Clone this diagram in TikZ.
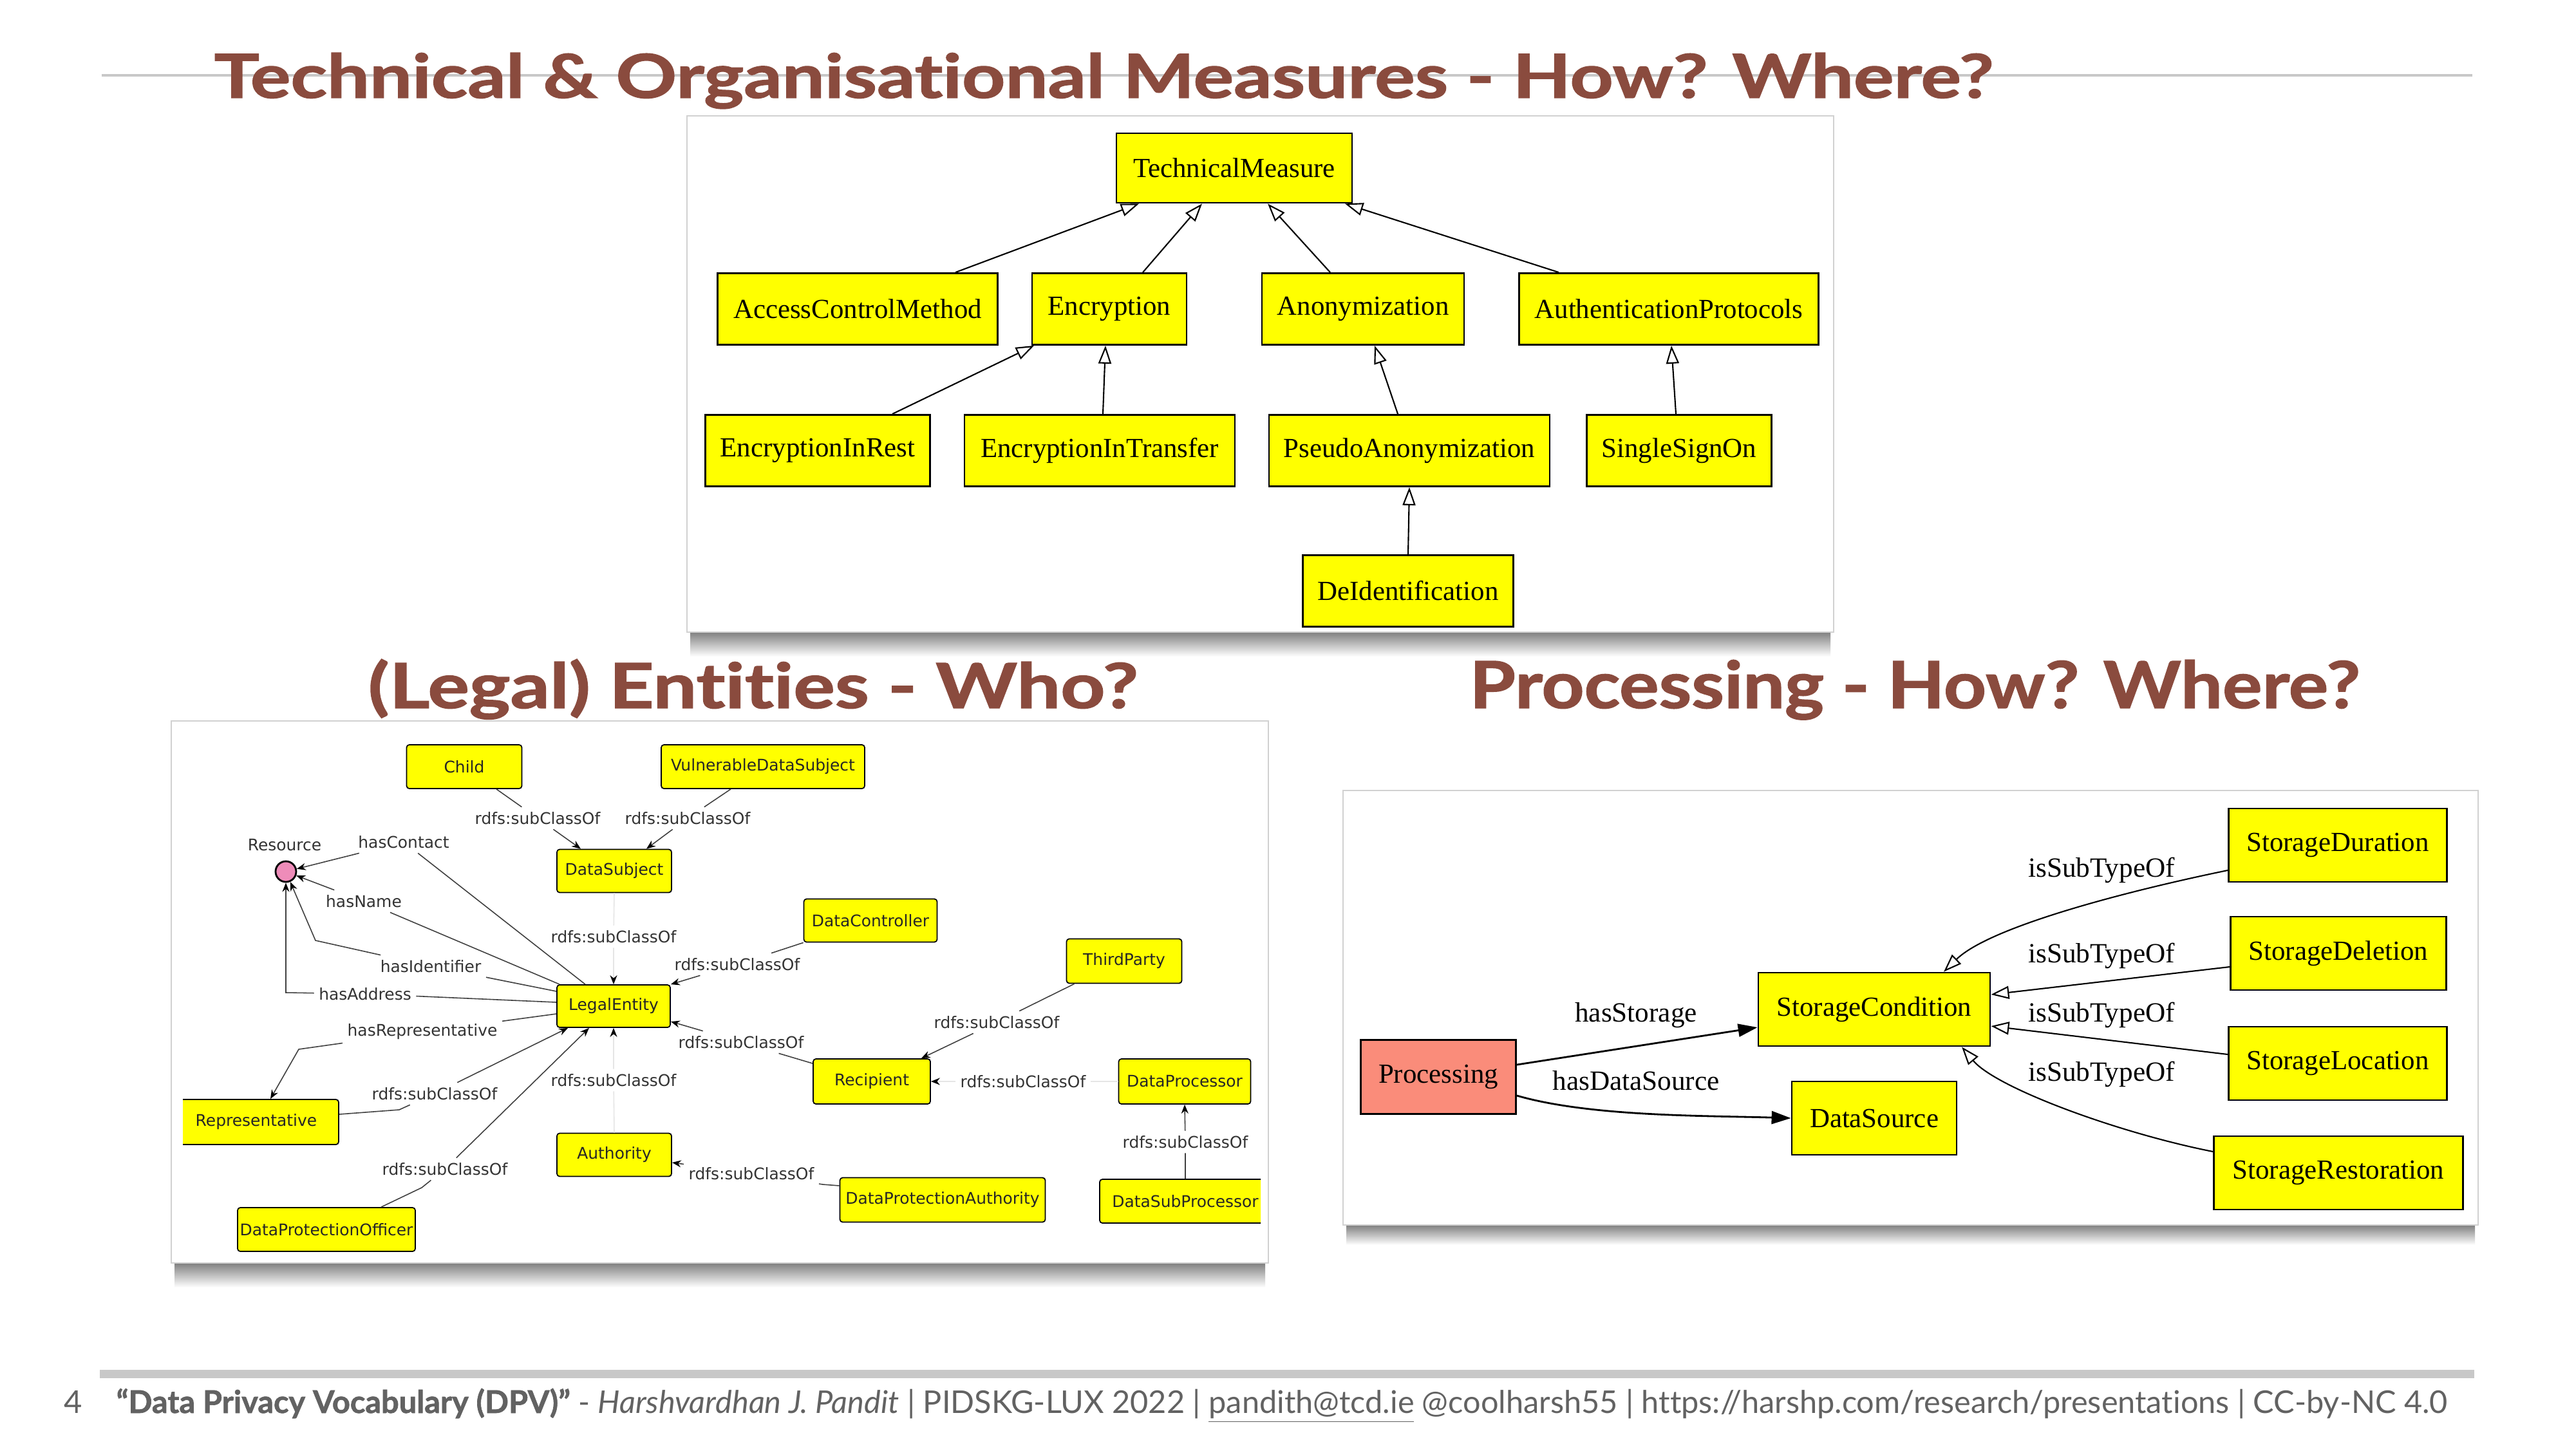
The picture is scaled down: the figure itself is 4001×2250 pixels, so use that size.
\documentclass[tikz,border=0pt]{standalone}
\usepackage{fontspec}
\usepackage{graphicx}
\setmainfont{Liberation Serif}
\newfontfamily\slidefont[Ligatures={NoCommon},BoldFeatures={FakeBold=1.4}]{Lato}
\newfontfamily\graphsans{DejaVu Sans}
\usetikzlibrary{arrows.meta,calc}
% break the t-i pair so that no ligature is formed
\newcommand\tisep{\kern0pt }

\definecolor{titlebrown}{RGB}{138,75,62}
\definecolor{rulegrey}{RGB}{200,200,200}
\definecolor{footgrey}{RGB}{98,98,98}
\definecolor{gvyellow}{RGB}{255,255,0}
\definecolor{procsalmon}{RGB}{250,140,122}
\definecolor{respink}{RGB}{238,140,185}

\begin{document}
\begin{tikzpicture}[x=0.1mm,y=-0.1mm,
  heading/.style={anchor=base west, inner sep=0, text=titlebrown},
  panel/.style={fill=white, draw=black!18, line width=0.5pt},
  gvbox/.style={draw=black, line width=0.8pt, fill=gvyellow, inner sep=0,
    font=\fontsize{12.2}{14}\selectfont},
  gvlabel/.style={inner sep=1pt, font=\fontsize{12.3}{14}\selectfont},
  isa/.style={line width=0.6pt, -{Triangle[open,length=0.28cm,width=0.2cm]}},
  hasrel/.style={line width=0.8pt, -{Triangle[length=0.3cm,width=0.2cm]}},
  entbox/.style={draw=black, line width=0.5pt, fill=gvyellow, rounded corners=1.2pt,
    inner sep=0, text=black!85, font=\graphsans\fontsize{7.1}{8}\selectfont},
  entlabel/.style={inner sep=2pt, text=black!80, font=\graphsans\fontsize{7.1}{8}\selectfont},
  entedge/.style={draw=black!75, line width=0.45pt, -{Stealth[black,length=0.14cm,width=0.11cm]}},
  faintedge/.style={draw=black!10, line width=0.45pt, -{Stealth[black,length=0.14cm,width=0.11cm]}}
]
\useasboundingbox (0,0) rectangle (4001,2250);
\fill[white] (0,0) rectangle (4001,2250);

% rule under the slide heading
\draw[rulegrey, line width=1.15pt] (158,117) -- (3840,117);

% headings
\node[heading] (head1) at (332,152)
  {\resizebox{27.63cm}{0.70cm}{\slidefont\bfseries Technical \& Organisat\tisep ional Measures - How? Where?}};
\node[heading] (head2) at (571,1100)
  {\resizebox{11.96cm}{0.76cm}{\slidefont\bfseries (Legal) Ent\tisep it\tisep ies - Who?}};
\node[heading] (head3) at (2282,1100)
  {\resizebox{13.83cm}{0.75cm}{\slidefont\bfseries Processing - How? Where?}};

% ---------- panel frames with shadows ----------
\shade[top color=black!50, bottom color=white] (1072,982) rectangle (2843,1020);
\draw[panel] (1067,180) rectangle (2848,982);

\shade[top color=black!50, bottom color=white] (271,1962) rectangle (1965,2000);
\draw[panel] (266,1120) rectangle (1970,1962);

\shade[top color=black!50, bottom color=white] (2091,1903) rectangle (3844,1934);
\draw[panel] (2086,1228) rectangle (3849,1903);

% ---------- technical measures taxonomy ----------
\node[gvbox, minimum width=3.66cm, minimum height=1.08cm] (tm) at (1917,261) {TechnicalMeasure};
\node[gvbox, minimum width=4.35cm, minimum height=1.11cm] (acm) at (1332,480) {AccessControlMethod};
\node[gvbox, minimum width=2.40cm, minimum height=1.11cm] (enc) at (1723,480) {Encryption};
\node[gvbox, minimum width=3.14cm, minimum height=1.11cm] (anon) at (2117,480) {Anonymization};
\node[gvbox, minimum width=4.65cm, minimum height=1.11cm] (authp) at (2592,480) {AuthenticationProtocols};
\node[gvbox, minimum width=3.49cm, minimum height=1.11cm] (eir) at (1270,700) {EncryptionInRest};
\node[gvbox, minimum width=4.20cm, minimum height=1.11cm] (eit) at (1708,700) {EncryptionInTransfer};
\node[gvbox, minimum width=4.36cm, minimum height=1.11cm] (pseudo) at (2189,700) {PseudoAnonymization};
\node[gvbox, minimum width=2.87cm, minimum height=1.11cm] (sso) at (2608,700) {SingleSignOn};
\node[gvbox, minimum width=3.27cm, minimum height=1.11cm] (deid) at (2187,918) {DeIdentification};

\draw[isa] ($(acm.north)+(152,0)$) -- ($(tm.south)+(-148,0)$);
\draw[isa] ($(enc.north)+(52,0)$) -- ($(tm.south)+(-50,0)$);
\draw[isa] ($(anon.north)+(-51,0)$) -- ($(tm.south)+(52,0)$);
\draw[isa] ($(authp.north)+(-171,0)$) -- ($(tm.south)+(172,0)$);
\draw[isa] ($(eir.north)+(116,0)$) -- ($(enc.south)+(-117,0)$);
\draw[isa] ($(eit.north)+(5,0)$) -- ($(enc.south)+(-6,0)$);
\draw[isa] ($(pseudo.north)+(-18,0)$) -- ($(anon.south)+(18,0)$);
\draw[isa] ($(sso.north)+(-5,0)$) -- ($(authp.south)+(4,0)$);
\draw[isa] (deid.north) -- (pseudo.south);

% ---------- processing and storage conditions ----------
\node[gvbox, fill=procsalmon, minimum width=2.41cm, minimum height=1.15cm] (proc) at (2234,1673) {Processing};
\node[gvbox, minimum width=3.60cm, minimum height=1.14cm] (sc) at (2911,1568) {StorageCondition};
\node[gvbox, minimum width=2.56cm, minimum height=1.14cm] (dsrc) at (2911,1737) {DataSource};
\node[gvbox, minimum width=3.39cm, minimum height=1.14cm] (sdur) at (3631,1313) {StorageDuration};
\node[gvbox, minimum width=3.35cm, minimum height=1.14cm] (sdel) at (3632,1481) {StorageDeletion};
\node[gvbox, minimum width=3.39cm, minimum height=1.14cm] (sloc) at (3631,1652) {StorageLocation};
\node[gvbox, minimum width=3.87cm, minimum height=1.14cm] (srest) at (3632,1822) {StorageRestoration};

\draw[hasrel] ($(proc.east)+(0,-19)$) -- ($(sc.west)+(0,28)$);
\draw[hasrel] ($(proc.east)+(0,29)$) .. controls (2470,1735) and (2650,1733) .. (dsrc.west);
\node[gvlabel] (lhs) at (2541,1577) {hasStorage};
\node[gvlabel] (lhds) at (2541,1679) {hasDataSource};

\draw[isa] ($(sdur.west)+(0,39)$) .. controls (3300,1385) and (3090,1440) .. ($(sc.north)+(108,0)$);
\draw[isa] ($(sdel.west)+(0,21)$) -- ($(sc.east)+(0,-23)$);
\draw[isa] ($(sloc.west)+(0,-14)$) -- ($(sc.east)+(0,26)$);
\draw[isa] ($(srest.west)+(0,-33)$) .. controls (3290,1760) and (3100,1690) .. ($(sc.south)+(136,0)$);
\node[gvlabel] (lst1) at (3264,1352) {isSubTypeOf};
\node[gvlabel] (lst2) at (3264,1485) {isSubTypeOf};
\node[gvlabel] (lst3) at (3264,1577) {isSubTypeOf};
\node[gvlabel] (lst4) at (3264,1669) {isSubTypeOf};

% ---------- legal entities graph ----------
\begin{scope}
\clip (284,1128) rectangle (1958,1958);
\node[entbox, minimum width=1.79cm, minimum height=0.68cm] (child) at (721,1191) {Child};
\node[entbox, minimum width=3.16cm, minimum height=0.68cm] (vds) at (1185,1191) {VulnerableDataSubject};
\node[entbox, minimum width=1.78cm, minimum height=0.67cm] (dsub) at (954,1353) {DataSubject};
\node[entbox, minimum width=1.76cm, minimum height=0.66cm] (le) at (953,1563) {LegalEntity};
\node[entbox, minimum width=2.56cm, minimum height=0.70cm] (rep) at (398,1743) {Representative};
\node[entbox, minimum width=1.78cm, minimum height=0.67cm] (auth) at (954,1794) {Authority};
\node[entbox, minimum width=2.76cm, minimum height=0.68cm] (dpo) at (507,1910) {DataProtectionOfficer};
\node[entbox, minimum width=2.07cm, minimum height=0.67cm] (dc) at (1352,1430) {DataController};
\node[entbox, minimum width=1.79cm, minimum height=0.69cm] (tp) at (1746,1493) {ThirdParty};
\node[entbox, minimum width=1.82cm, minimum height=0.70cm] (recp) at (1354,1680) {Recipient};
\node[entbox, minimum width=2.05cm, minimum height=0.70cm] (dp) at (1840,1680) {DataProcessor};
\node[entbox, minimum width=3.19cm, minimum height=0.69cm] (dpa) at (1464,1864) {DataProtectionAuthority};
\node[entbox, minimum width=2.66cm, minimum height=0.68cm] (dsp) at (1841,1866) {DataSubProcessor};

\node[circle, draw=black, line width=0.8pt, fill=respink, minimum size=0.32cm, inner sep=0] (res) at (444,1354) {};
\node[entlabel] (resl) at (442,1313) {Resource};

\node[entlabel] (l1) at (835,1271) {rdfs:subClassOf};
\node[entlabel] (l2) at (1068,1271) {rdfs:subClassOf};
\node[entlabel] (lhc) at (627,1308) {hasContact};
\node[entlabel] (lhn) at (565,1400) {hasName};
\node[entlabel] (lhi) at (669,1501) {hasIdentifier};
\node[entlabel] (lha) at (567,1544) {hasAddress};
\node[entlabel] (lhr) at (656,1603) {hasRepresentative};
\node[entlabel] (l8) at (675,1699) {rdfs:subClassOf};
\node[entlabel] (l9) at (691,1816) {rdfs:subClassOf};
\node[entlabel] (l10) at (953,1678) {rdfs:subClassOf};
\node[entlabel] (l11) at (953,1455) {rdfs:subClassOf};
\node[entlabel] (l12) at (1145,1498) {rdfs:subClassOf};
\node[entlabel] (l13) at (1151,1619) {rdfs:subClassOf};
\node[entlabel] (l14) at (1548,1588) {rdfs:subClassOf};
\node[entlabel] (l15) at (1589,1680) {rdfs:subClassOf};
\node[entlabel] (l16) at (1841,1774) {rdfs:subClassOf};
\node[entlabel] (l17) at (1167,1823) {rdfs:subClassOf};

\coordinate (bi) at (490,1461);
\coordinate (ba) at (444,1542);
\coordinate (br) at (464,1630);
\coordinate (b8) at (620,1724);
\coordinate (b9) at (655,1845);
\coordinate (b17) at (1278,1840);

\draw[entedge] ($(child.south)+(50,0)$) -- (l1) -- ($(dsub.north)+(-52,0)$);
\draw[entedge] ($(vds.south)+(-50,0)$) -- (l2) -- ($(dsub.north)+(50,0)$);
\draw[entedge] ($(le.north)+(-44,0)$) -- (lhc) -- (res);
\draw[entedge] ($(le.north west)+(5,0)$) -- (lhn) -- (res);
\draw[entedge] ($(le.west)+(0,-23)$) -- (lhi) -- (bi) -- (res);
\draw[entedge] ($(le.west)+(0,-6)$) -- (lha) -- (ba) -- (res);
\draw[entedge] ($(le.west)+(0,12)$) -- (lhr) -- (br) -- ($(rep.north)+(22,0)$);
\draw[entedge] ($(rep.east)+(0,-12)$) -- (b8) -- (l8) -- ($(le.south west)+(18,0)$);
\draw[entedge] ($(dpo.north)+(85,0)$) -- (b9) -- (l9) -- ($(le.south)+(-38,0)$);
\draw[faintedge] (auth.north) -- (l10) -- (le.south);
\draw[faintedge] (dsub.south) -- (l11) -- (le.north);
\draw[entedge] (dc.south west) -- (l12) -- (le.north east);
\draw[entedge] ($(recp.west)+(0,-28)$) -- (l13) -- ($(le.east)+(0,24)$);
\draw[entedge] ($(tp.south west)+(13,0)$) -- (l14) -- ($(recp.north east)+(-15,0)$);
\draw[faintedge] (dp.west) -- (l15) -- (recp.east);
\draw[entedge] (dsp.north) -- (l16) -- (dp.south);
\draw[entedge] ($(dpa.west)+(0,-22)$) -- (b17) -- (l17) -- ($(auth.east)+(0,12)$);
\end{scope}

% ---------- footer ----------
\fill[rulegrey] (155,2128) rectangle (3843,2141);
\node[anchor=base west, inner sep=0, text=footgrey] (pagenum) at (99,2195)
  {\resizebox{!}{0.35cm}{\slidefont 4}};
\node[anchor=base west, inner sep=0, text=footgrey] (footer) at (180,2195)
  {\resizebox{36.21cm}{!}{\slidefont\fontsize{14}{16}\selectfont
   {\bfseries “Data Privacy Vocabulary (DPV)”} - {\itshape Harshvardhan J. Pandit} | PIDSKG-LUX 2022 | \underline{pandith@tcd.ie} @coolharsh55 | https://harshp.com/research/presentat\tisep ions | CC-by-NC 4.0}};
\end{tikzpicture}
\end{document}
